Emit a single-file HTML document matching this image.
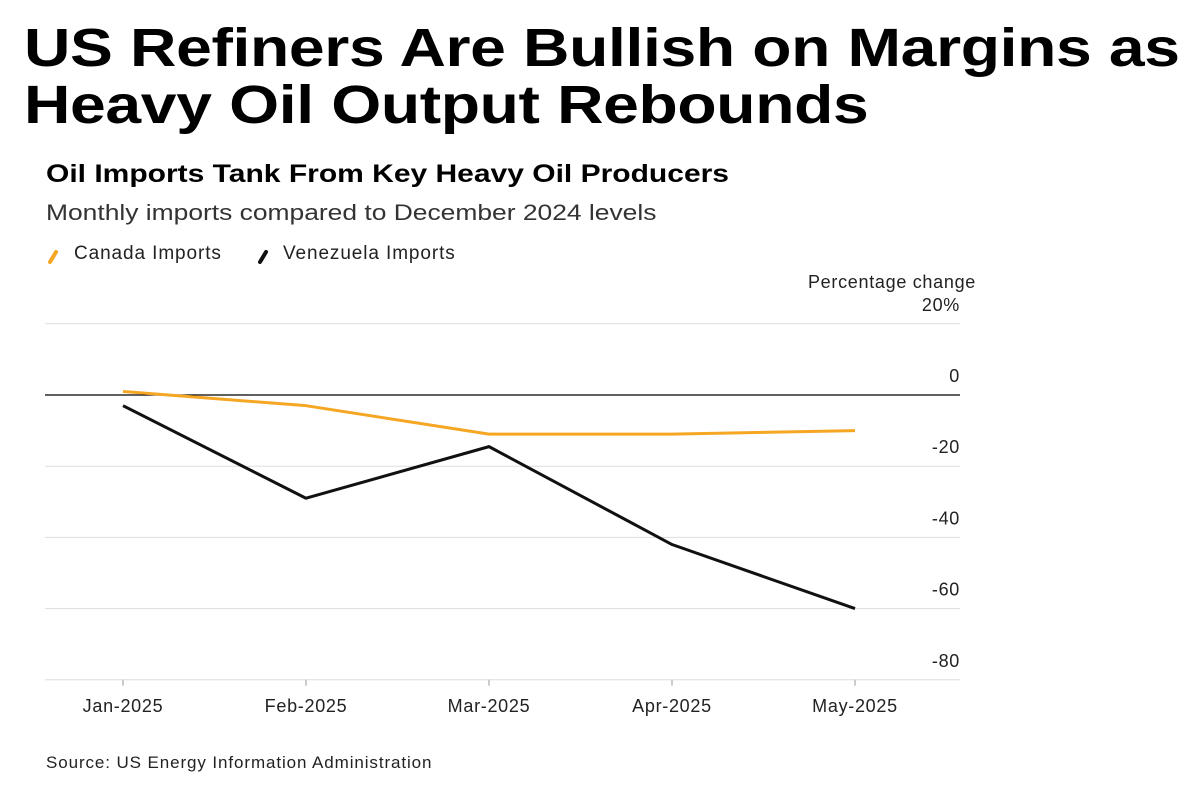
<!DOCTYPE html>
<html><head><meta charset="utf-8"><style>
body{margin:0;width:1200px;height:801px;background:#fff;font-family:"Liberation Sans",sans-serif;overflow:hidden;position:relative}
.t{position:absolute;left:24px;top:20px;font-size:54px;font-weight:bold;line-height:57px;letter-spacing:-0.3px;color:#000;transform:scaleX(1.19);transform-origin:0 0;white-space:nowrap}
.s{position:absolute;left:46px;top:160px;font-size:25px;font-weight:bold;color:#000;transform:scaleX(1.2);transform-origin:0 0;white-space:nowrap}
.d{position:absolute;left:46px;top:200px;font-size:22px;color:#333;transform:scaleX(1.2);transform-origin:0 0;white-space:nowrap}
</style></head><body>
<div class="t">US Refiners Are Bullish on Margins as<br>Heavy Oil Output Rebounds</div>
<div class="s">Oil Imports Tank From Key Heavy Oil Producers</div>
<div class="d">Monthly imports compared to December 2024 levels</div>
<svg id="c" width="1200" height="801" style="position:absolute;left:0;top:0"></svg>
<script>
const categories=["Jan-2025","Feb-2025","Mar-2025","Apr-2025","May-2025"];
const canada=[1,-3,-11,-11,-10];
const venezuela=[-3,-29,-14.5,-42,-60];
const yTicks=[20,0,-20,-40,-60,-80];
const yLabels=["20%","0","-20","-40","-60","-80"];
const NS="http://www.w3.org/2000/svg";
const svg=document.getElementById('c');
const x=i=>123+i*183;
const y=v=>395-v*(71.2/20);
function el(t,a){const e=document.createElementNS(NS,t);for(const k in a)e.setAttribute(k,a[k]);svg.appendChild(e);return e;}
function tx(s,a){const e=el('text',Object.assign({'font-family':'Liberation Sans, sans-serif','font-size':18,'letter-spacing':'0.7',fill:'#222'},a));e.textContent=s;return e;}
let g;
g=el('line',{x1:50,y1:262,x2:56,y2:252,stroke:'#f5a623','stroke-width':4,'stroke-linecap':'round'});

g=tx('Canada Imports',{x:74,y:259,'font-size':19,'letter-spacing':'0.9'});

g=el('line',{x1:260,y1:262,x2:266,y2:252,stroke:'#111','stroke-width':4,'stroke-linecap':'round'});

g=tx('Venezuela Imports',{x:283,y:259,'font-size':19,'letter-spacing':'0.9'});

g=tx('Percentage change',{x:976,y:288,'text-anchor':'end'});

yTicks.forEach((v,i)=>{
  const l=el('line',{x1:45,x2:960,y1:y(v),y2:y(v),stroke:v===0?'#000':'#ddd','stroke-width':v===0?1.3:1});
  
  const t=tx(yLabels[i],{x:960,y:y(v)-13,'text-anchor':'end'});
  
});
categories.forEach((c,i)=>{
  const l=el('line',{x1:x(i),x2:x(i),y1:y(-80),y2:y(-80)+6,stroke:'#999'});
  
  const t=tx(c,{x:x(i),y:712,'text-anchor':'middle'});
  
});
function line(d,col,n){
  const p=el('polyline',{points:d.map((v,i)=>x(i)+','+y(v)).join(' '),fill:'none',stroke:col,'stroke-width':3,'stroke-linejoin':'round'});
  
}
line(canada,'#f5a623','canada-line');
line(venezuela,'#111','venezuela-line');
g=tx('Source: US Energy Information Administration',{x:46,y:768,'font-size':17,'letter-spacing':'0.9'});

</script>
</body></html>
